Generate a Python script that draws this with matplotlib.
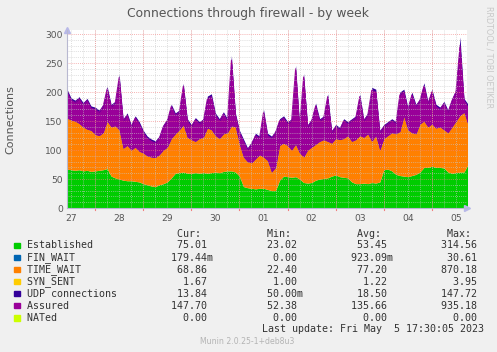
import numpy as np
import matplotlib
matplotlib.use("Agg")
import matplotlib.pyplot as plt
from matplotlib.patches import Rectangle

# ---------------- data (2-hour samples) ----------------
established = [67, 66, 65, 66, 64, 65, 63, 64, 65, 66, 68, 55, 52, 50, 48, 47, 47, 46, 45, 42,
               40, 38, 37, 40, 42, 45, 52, 60, 61, 62, 60, 60, 61, 60, 61, 60, 61, 62, 61, 63,
               64, 64, 62, 55, 37, 35, 34, 33, 34, 34, 32, 30, 30, 48, 55, 54, 53, 54, 50, 44,
               43, 44, 48, 50, 51, 52, 55, 57, 54, 53, 52, 45, 42, 42, 43, 42, 44, 43, 45, 66,
               67, 64, 58, 56, 55, 54, 56, 58, 62, 70, 70, 72, 70, 70, 69, 62, 60, 61, 62, 62, 75]
time_wait = [88, 86, 85, 80, 76, 71, 71, 63, 60, 64, 82, 85, 90, 85, 55, 61, 53, 59, 53, 53,
             50, 50, 50, 52, 58, 60, 68, 68, 74, 81, 62, 58, 54, 60, 61, 78, 74, 63, 59, 65,
             66, 78, 78, 55, 51, 45, 44, 52, 58, 54, 50, 32, 40, 60, 57, 54, 47, 56, 45, 44,
             57, 61, 62, 65, 67, 63, 57, 63, 64, 67, 73, 70, 76, 83, 79, 86, 71, 82, 55, 54,
             58, 66, 70, 76, 103, 81, 74, 70, 83, 80, 70, 73, 68, 70, 66, 68, 80, 89, 98, 103, 69]
udp = [50, 38, 36, 46, 42, 53, 42, 47, 44, 49, 60, 39, 42, 96, 51, 56, 44, 54, 51, 39,
       34, 31, 29, 32, 44, 49, 59, 36, 34, 72, 32, 26, 41, 29, 32, 55, 62, 39, 34, 38,
       24, 121, 24, 24, 31, 24, 36, 44, 32, 82, 47, 62, 64, 46, 47, 41, 54, 136, 49, 144,
       44, 49, 71, 39, 41, 82, 22, 24, 21, 34, 24, 39, 41, 72, 32, 36, 93, 80, 34, 24,
       24, 24, 21, 68, 47, 39, 70, 51, 44, 66, 44, 60, 41, 34, 49, 39, 49, 55, 135, 24, 35]
assured = [200, 186, 182, 188, 178, 185, 172, 170, 165, 175, 205, 175, 180, 225, 150, 160, 140, 155, 145, 130,
           120, 115, 112, 120, 140, 150, 175, 160, 165, 210, 150, 140, 152, 145, 150, 188, 192, 160, 150, 162,
           150, 255, 160, 130, 115, 100, 110, 125, 120, 165, 125, 120, 130, 150, 155, 145, 150, 240, 140, 226,
           140, 150, 176, 150, 155, 192, 130, 140, 135, 150, 145, 150, 155, 192, 150, 160, 203, 200, 130, 140,
           145, 150, 145, 195, 200, 170, 195, 175, 185, 210, 180, 200, 175, 170, 180, 165, 185, 200, 280, 185, 175]

day_labels = ["27", "28", "29", "30", "01", "02", "03", "04", "05"]
series_names = ["Established", "FIN_WAIT", "TIME_WAIT", "SYN_SENT", "UDP connections", "Assured", "NATed"]
series_colors = ["#00CC00", "#0066B3", "#FF8000", "#FFCC00", "#330099", "#990099", "#CCFF00"]
cur_vals = ["75.01", "179.44m", "68.86", "1.67", "13.84", "147.70", "0.00"]
min_vals = ["23.02", "0.00", "22.40", "1.00", "50.00m", "52.38", "0.00"]
avg_vals = ["53.45", "923.09m", "77.20", "1.22", "18.50", "135.66", "0.00"]
max_vals = ["314.56", "30.61", "870.18", "3.95", "147.72", "935.18", "0.00"]

hours = np.arange(len(established)) * 2.0       # hours since Apr 27 10:00
first_midnight = 14.0                            # Apr 28 00:00
n_days = len(day_labels)

# ---------------- figure ----------------
W, H = 497, 352
fig = plt.figure(figsize=(W / 100, H / 100), dpi=100, facecolor="#F0F0F0")
L, R, T, B = 67, 467, 30, 208
ax = fig.add_axes([L / W, 1 - B / H, (R - L) / W, (B - T) / H], facecolor="white")

est = np.array(established, float)
tw = np.array(time_wait, float)
ud = np.array(udp, float)
asr = np.array(assured, float)
top_tw = est + tw
top_udp = top_tw + ud

ax.fill_between(hours, 0, est, color=series_colors[0], lw=0, zorder=2)
ax.fill_between(hours, est, top_tw, color=series_colors[2], lw=0, zorder=2)
ax.fill_between(hours, top_tw, top_udp, color=series_colors[4], lw=0, zorder=2)
ax.fill_between(hours, top_tw, np.minimum(asr, top_udp), where=asr > top_tw,
                interpolate=True, color=series_colors[5], lw=0, zorder=3)
ax.plot(hours, asr, color=series_colors[5], lw=0.7, zorder=3)

ax.set_xlim(0, 199.5)
ax.set_ylim(0, 307)

# grid
for t in np.arange(first_midnight - 12, 200, 6):
    ax.axvline(t, color="#C8C8C8", lw=0.6, ls=(0, (1, 1.5)), zorder=4, alpha=0.8)
for t in np.arange(first_midnight, 200, 24):
    ax.axvline(t, color="#F08080", lw=0.6, ls=(0, (1, 1.5)), zorder=5, alpha=0.8)
for v in np.arange(10, 307, 10):
    if v % 50:
        ax.axhline(v, color="#C8C8C8", lw=0.6, ls=(0, (1, 1.5)), zorder=4, alpha=0.8)
for v in np.arange(50, 307, 50):
    ax.axhline(v, color="#F08080", lw=0.6, ls=(0, (1, 1.5)), zorder=5, alpha=0.8)

noon = first_midnight - 12 + 24 * np.arange(n_days)
ax.set_xticks(noon)
ax.set_xticklabels(day_labels)
ax.set_yticks(np.arange(0, 301, 50))
ax.tick_params(axis="both", length=0, labelsize=6.6, colors="#555555", pad=3)
ax.tick_params(axis="x", pad=4)

for s in ["top", "right"]:
    ax.spines[s].set_visible(False)
for s in ["left", "bottom"]:
    ax.spines[s].set_color("#B8B8D0")
    ax.spines[s].set_linewidth(0.8)
    ax.spines[s].set_zorder(6)
# midnight ticks below axis
for t in np.arange(first_midnight, 200, 24):
    ax.plot([t, t], [0, -3], color="#F08080", lw=0.8, clip_on=False, zorder=6)
ax.plot([0], [1.0], marker="^", color="#B8B8E8", ms=4, transform=ax.transAxes, clip_on=False)
ax.plot([1.0], [0], marker=">", color="#B8B8E8", ms=4, transform=ax.transAxes, clip_on=False)

def ftext(x, y, s, **kw):
    fig.text(x / W, 1 - y / H, s, **kw)

ftext(10.5, 119.5, "Connections", rotation=90, ha="center", va="center",
      fontsize=8.0, color="#555555")
ftext(248, 13, "Connections through firewall - by week", ha="center", va="center",
      fontsize=8.9, color="#555555")
ftext(488.5, 6, "RRDTOOL / TOBI OETIKER", ha="center", va="top", rotation=270,
      fontsize=5.8, color="#C8C8C8")

# legend
mono = dict(family="DejaVu Sans Mono", fontsize=7.2, color="#333333", va="center")
ftext(26.7, 234, " " * 25 + "Cur:" + " " * 11 + "Min:" + " " * 11 + "Avg:" + " " * 11 + "Max:", **mono)

def split(v):
    return (v[:-1], v[-1]) if v[-1].isalpha() else (v, " ")

for i, name in enumerate(series_names):
    y = 245.3 + 12.07 * i
    line = name.ljust(16)
    for col in (cur_vals, min_vals, avg_vals, max_vals):
        num, suf = split(col[i])
        line += num.rjust(14) + suf
    ftext(26.7, y, line, **mono)
    fig.patches.append(Rectangle((14 / W, 1 - (y + 2.8) / H), 5.6 / W, 5.6 / H,
                                 transform=fig.transFigure, color=series_colors[i]))

ftext(261.7, 329.3, "Last update: Fri May  5 17:30:05 2023", **mono)
ftext(200, 341.5, "Munin 2.0.25-1+deb8u3", fontsize=5.6, color="#B4B4B4", va="center")

fig.savefig("out.png", dpi=100, facecolor=fig.get_facecolor())
